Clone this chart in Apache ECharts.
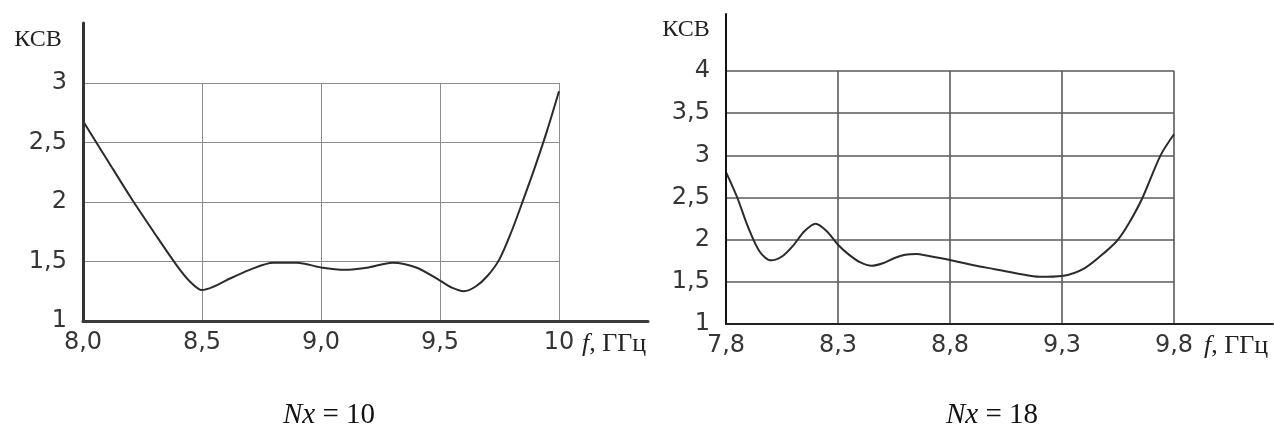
<!DOCTYPE html>
<html>
<head>
<meta charset="utf-8">
<script src="https://cdn.jsdelivr.net/npm/echarts@6/dist/echarts.min.js"></script>
<style>
  html, body { margin: 0; padding: 0; background: #fff; }
  #chart { width: 1274px; height: 429px; }
</style>
</head>
<body>
<div id="chart"></div>
<script>
// VSWR (КСВ) versus frequency, two antenna variants: Nx = 10 and Nx = 18.

// Nx = 10
const freqA = [8.0, 8.1, 8.2, 8.3, 8.4, 8.45, 8.5, 8.55, 8.6, 8.7, 8.8, 8.9, 9.0, 9.1, 9.2, 9.3, 9.4, 9.5, 9.55, 9.6, 9.65, 9.7, 9.75, 9.8, 9.85, 9.9, 9.95, 10.0];
const vswrA = [2.68, 2.36, 2.04, 1.74, 1.45, 1.33, 1.26, 1.29, 1.34, 1.43, 1.49, 1.49, 1.45, 1.43, 1.45, 1.49, 1.45, 1.34, 1.28, 1.25, 1.29, 1.38, 1.52, 1.75, 2.02, 2.3, 2.6, 2.93];

// Nx = 18
const freqB = [7.8, 7.85, 7.9, 7.95, 8.0, 8.05, 8.1, 8.15, 8.2, 8.25, 8.3, 8.35, 8.4, 8.45, 8.5, 8.55, 8.6, 8.65, 8.7, 8.8, 8.9, 9.0, 9.1, 9.2, 9.3, 9.4, 9.5, 9.55, 9.6, 9.66, 9.74, 9.8];
const vswrB = [2.8, 2.5, 2.14, 1.86, 1.755, 1.8, 1.93, 2.1, 2.19, 2.1, 1.94, 1.82, 1.73, 1.69, 1.72, 1.78, 1.82, 1.83, 1.81, 1.76, 1.7, 1.65, 1.6, 1.56, 1.57, 1.66, 1.87, 2.0, 2.2, 2.5, 3.0, 3.25];

// Tick labels
const xTicksA = ['8,0', '8,5', '9,0', '9,5', '10'];
const yTicksA = ['1', '1,5', '2', '2,5', '3'];
const xTicksB = ['7,8', '8,3', '8,8', '9,3', '9,8'];
const yTicksB = ['1', '1,5', '2', '2,5', '3', '3,5', '4'];

const captionA = 'Nx = 10';
const captionB = 'Nx = 18';
const yName = 'КСВ';
const xName = 'f, ГГц';

const STEP = 0.5;
const labelFont = { fontFamily: 'DejaVu Sans', fontSize: 24, color: '#363636' };

function tickFormatter(list, min) {
  return v => list[Math.round((v - min) / STEP)] ?? '';
}

function dataAxisX(grid, min, max, list, gridColor, gridWidth) {
  return {
    gridIndex: grid, type: 'value', min, max, interval: STEP,
    axisLine: { show: false }, axisTick: { show: false },
    splitLine: { show: true, lineStyle: { color: gridColor, width: gridWidth } },
    axisLabel: Object.assign({ margin: 10, formatter: tickFormatter(list, min) }, labelFont)
  };
}
function dataAxisY(grid, min, max, list, gridColor, gridWidth) {
  return {
    gridIndex: grid, type: 'value', min, max, interval: STEP,
    axisLine: { show: false }, axisTick: { show: false },
    splitLine: { show: true, lineStyle: { color: gridColor, width: gridWidth } },
    axisLabel: Object.assign({ margin: 16, formatter: tickFormatter(list, min) }, labelFont)
  };
}
// Long axis lines that run past the plotted area
function frameAxis(grid, color, width) {
  return {
    gridIndex: grid, type: 'value', min: 0, max: 1, z: 5,
    axisLine: { show: true, onZero: false, lineStyle: { color, width } },
    axisTick: { show: false }, axisLabel: { show: false }, splitLine: { show: false }
  };
}

function yText(x, y) {
  return { type: 'text', x, y, z: 10,
    style: { text: yName, fontFamily: 'Liberation Serif', fontSize: 24, fill: '#222', align: 'center', verticalAlign: 'middle' } };
}
function xText(x, y) {
  const parts = xName.split(',');
  return { type: 'text', x, y, z: 10,
    style: {
      text: '{i|' + parts[0] + '}{n|,' + parts[1] + '}',
      align: 'left', verticalAlign: 'middle',
      rich: {
        i: { fontFamily: 'Liberation Serif', fontStyle: 'italic', fontSize: 26, fill: '#222' },
        n: { fontFamily: 'Liberation Serif', fontSize: 26, fill: '#222' }
      }
    } };
}
function caption(x, y, txt) {
  const m = txt.split(' ');
  return { type: 'text', x, y, z: 10,
    style: {
      text: '{i|' + m[0] + '}{n| ' + m.slice(1).join(' ') + '}',
      align: 'center', verticalAlign: 'middle',
      rich: {
        i: { fontFamily: 'Liberation Serif', fontStyle: 'italic', fontSize: 29, fill: '#111' },
        n: { fontFamily: 'Liberation Serif', fontSize: 29, fill: '#111' }
      }
    } };
}

const chart = echarts.init(document.getElementById('chart'), null, { renderer: 'canvas' });
chart.setOption({
  backgroundColor: '#ffffff',
  animation: false,
  grid: [
    { left: 83, top: 83, width: 476, height: 238 },
    { left: 83, top: 23, width: 565, height: 298 },
    { left: 726, top: 71, width: 448, height: 253 },
    { left: 726, top: 14, width: 547, height: 310 }
  ],
  xAxis: [
    dataAxisX(0, 8.0, 10.0, xTicksA, '#8c8c8c', 1),
    frameAxis(1, '#3a3a3a', 3),
    dataAxisX(2, 7.8, 9.8, xTicksB, '#5a5a5a', 1.6),
    frameAxis(3, '#222', 2)
  ],
  yAxis: [
    dataAxisY(0, 1, 3, yTicksA, '#8c8c8c', 1),
    frameAxis(1, '#333', 3),
    dataAxisY(2, 1, 4, yTicksB, '#5a5a5a', 1.6),
    frameAxis(3, '#111', 2)
  ],
  series: [
    {
      type: 'line', xAxisIndex: 0, yAxisIndex: 0, smooth: 0.3, showSymbol: false, z: 4,
      lineStyle: { color: '#2b2b2b', width: 2 },
      data: freqA.map((f, i) => [f, vswrA[i]])
    },
    {
      type: 'line', xAxisIndex: 2, yAxisIndex: 2, smooth: 0.3, showSymbol: false, z: 4,
      lineStyle: { color: '#2b2b2b', width: 2 },
      data: freqB.map((f, i) => [f, vswrB[i]])
    }
  ],
  graphic: [
    yText(38, 40),
    yText(686, 30),
    xText(582, 344),
    xText(1204, 346),
    caption(329, 415, captionA),
    caption(992, 415, captionB)
  ]
});
</script>
</body>
</html>
